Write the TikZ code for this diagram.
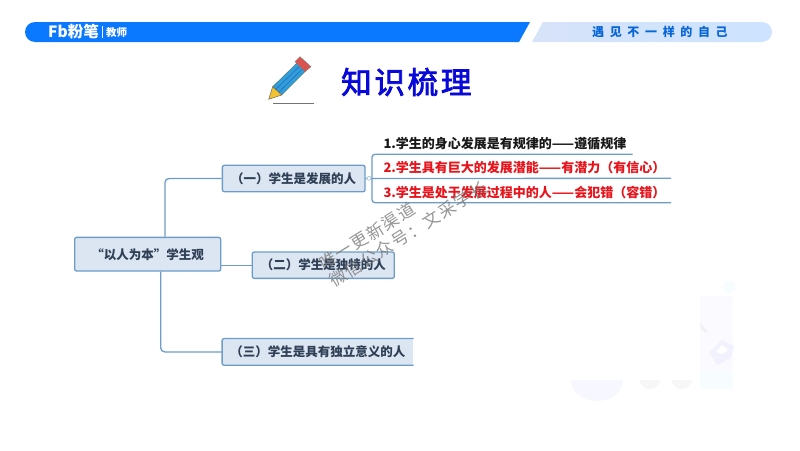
\documentclass[tikz,border=0pt]{standalone}
\usepackage{xcolor}
\usepackage{fontspec}
\setmainfont{Noto Sans CJK SC}
\newfontfamily\sloganfont[LetterSpace=47]{Noto Sans CJK SC}
\newfontfamily\titlefont[LetterSpace=9,FakeBold=2.5]{Noto Sans CJK SC}
\newfontfamily\markfont[LetterSpace=8]{Noto Sans CJK SC}
\definecolor{fbblue}{HTML}{0A78FF}
\definecolor{slogansoft}{HTML}{D7E3F9}
\definecolor{sloganpale}{HTML}{CDE3FF}
\definecolor{titleblue}{HTML}{0808D8}
\definecolor{boxfill}{HTML}{DCE6F2}
\definecolor{boxline}{HTML}{6D9CC8}
\definecolor{boxtext}{HTML}{2F3F55}
\definecolor{pointred}{HTML}{E8141C}
\definecolor{pencilbody}{HTML}{2AA0DC}
\definecolor{pencilend}{HTML}{D9534F}
\definecolor{penciltip}{HTML}{F2C230}
\tikzset{
    topicbox/.style={rounded corners=2pt,fill=boxfill,draw=boxline,line width=1.3pt,inner sep=0pt,
        font=\fontsize{12.5}{15}\bfseries\selectfont,text=boxtext},
    link/.style={draw=boxline,line width=1.3pt,rounded corners=4pt},
    pointline/.style={anchor=west,inner sep=0pt,font=\fontsize{13}{15}\bfseries\selectfont},
    mark text/.style={rotate=32,inner sep=0pt,text=black!55,opacity=.75,font=\fontsize{17}{20}\markfont}
}
\begin{document}
\begin{tikzpicture}[x=1pt,y=-1pt]
    \useasboundingbox (0,0) rectangle (800,450);
    \fill[white] (0,0) rectangle (800,450);
    \fill[blue!1.5] (700,296) -- (733,296) -- (733,372) -- (700,372) -- cycle;
    \fill[cyan!3] (700,372) rectangle (733,389);
    \fill[cyan!3] (729,287) circle (6);
    \fill[blue!3] (571,380) arc (180:0:26 and 21) -- cycle;
    \fill[black!3] (640,380) arc (180:0:10 and 9) -- cycle;
    \fill[black!3] (672,380) arc (180:0:10 and 9) -- cycle;
    \fill[blue!5] (722,340) -- (734,346) -- (731,358) -- (717,365) -- (709,352) -- cycle;
    \fill[white] (722,345) -- (728,350) -- (722,354) -- (716,352) -- cycle;
    \fill[black!5] (700,322) -- (708,332) -- (704,332) -- (701,330) -- cycle;
    \fill[fbblue] (35,22) -- (530,22) -- (519,42) -- (35,42) arc (90:270:10) -- cycle;
    \shade[left color=slogansoft,right color=sloganpale] (543,22) -- (762,22) arc (270:450:10) -- (532,42) -- cycle;
    \node[text=white,inner sep=0pt,anchor=west] (brand) at (48,32) {\fontsize{15.5}{18}\bfseries\selectfont Fb粉笔};
    \node[text=white,inner sep=0pt,anchor=west] (role) at (106,32.5) {\fontsize{10.5}{12}\bfseries\selectfont 教师};
    \draw[white,line width=.4pt] (102.5,26) -- (102.5,38);
    \node[text=fbblue!85!black,inner sep=0pt,anchor=west] (slogan) at (592,32) {\fontsize{12}{14}\sloganfont\bfseries 遇见不一样的自己};
    \fill[pencilbody,draw=black!60,line width=.4pt] (272.7,86.7) -- (297,63) -- (306,70.7) -- (281.7,95) -- cycle;
    \draw[blue!50!black!70,line width=.4pt] (275.7,89.5) -- (300,65.8) (278.7,92.2) -- (303,68.4);
    \fill[pencilend,draw=black!50,line width=.4pt] (300,56.7) -- (311,66.7) -- (305,71.7) -- (295,61.7) -- cycle;
    \fill[penciltip,draw=black!60,line width=.5pt] (268.7,99.3) -- (272.7,86.7) -- (281.7,95) -- cycle;
    \draw[black!55,line width=1pt] (273,103.7) -- (313.7,103.7);
    \node[text=titleblue,inner sep=0pt,anchor=west] (title) at (341,82) {\fontsize{30.5}{34}\titlefont 知识梳理};
    \node[topicbox,minimum width=146pt,minimum height=33.7pt] (root) at (147.7,254.2) {“以人为本”学生观};
    \node[topicbox,minimum width=142.7pt,minimum height=26.4pt] (growing) at (293.7,178.5) {（一）学生是发展的人};
    \node[topicbox,minimum width=142pt,minimum height=26.3pt] (unique) at (323.3,265.2) {（二）学生是独特的人};
    \node[inner sep=0pt,fill=boxfill,minimum width=191pt,minimum height=26.3pt,text=boxtext,font=\fontsize{12.5}{15}\bfseries\selectfont] (whole) at (317.8,351.9) {（三）学生是具有独立意义的人};
    \draw[link,rounded corners=2pt] (whole.north east) -- (whole.north west) -- (whole.south west) -- (whole.south east);
    \draw[link] ([xshift=17.3pt]root.north) |- (growing.west);
    \draw[link] (unique.west -| root.east) -- (unique.west);
    \draw[link] ([xshift=13pt]root.south) |- (whole.west);
    \node[pointline,text=black!90] (lawful) at (383.3,144) {1.学生的身心发展是有规律的——遵循规律};
    \node[pointline,text=pointred] (potential) at (383.3,167.7) {2.学生具有巨大的发展潜能——有潜力（有信心）};
    \node[pointline,text=pointred] (process) at (383.3,192.3) {3.学生是处于发展过程中的人——会犯错（容错）};
    \coordinate (fork) at (372,178.3);
    \coordinate (lawfulend) at (632.7,154.3);
    \coordinate (potentialend) at (671,178.3);
    \coordinate (processend) at (671,202.7);
    \draw[link,rounded corners=3pt] (lawfulend) -| (fork) |- (processend);
    \draw[link] (growing.east) -- (potentialend);
    \node[circle,draw=boxline!70,fill=white,line width=.5pt,inner sep=0pt,minimum size=4pt] (knob) at (369,178.3) {};
    \node[mark text] (markone) at (367,236) {唯一更新渠道};
    \node[mark text] (marktwo) at (408,234) {微信公众号：文采学长};
\end{tikzpicture}
\end{document}
